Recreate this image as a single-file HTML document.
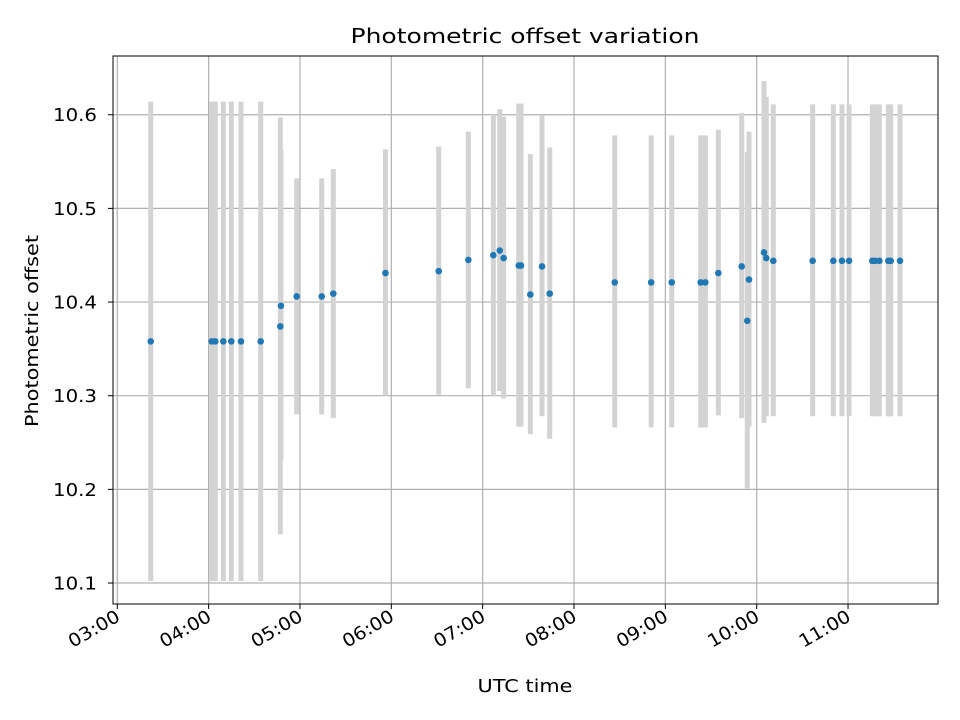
<!DOCTYPE html>
<html><head><meta charset="utf-8"><style>
body{margin:0;background:#fff;}
svg{display:block;font-family:"DejaVu Sans","Liberation Sans",sans-serif;}
</style></head><body>
<svg id="chart" width="960" height="720" viewBox="0 0 960 720" xmlns="http://www.w3.org/2000/svg">
<rect x="0" y="0" width="960" height="720" fill="#fff"/>
<g id="grid"></g>
<g id="errs"></g>
<g id="pts"></g>
<rect x="113" y="56" width="825" height="548" fill="none" stroke="#000" stroke-width="1"/>
<g id="axes"></g>
<text x="525" y="43" text-anchor="middle" font-size="20" textLength="349" lengthAdjust="spacingAndGlyphs">Photometric offset variation</text>
<text x="525" y="692" text-anchor="middle" font-size="18" textLength="95" lengthAdjust="spacingAndGlyphs">UTC time</text>
<text x="38" y="331" text-anchor="middle" font-size="18" textLength="192" lengthAdjust="spacingAndGlyphs" transform="rotate(-90 38 331)">Photometric offset</text>
</svg>
<script>
const times = [3.366,4.034,4.073,4.161,4.248,4.354,4.570,4.785,4.792,4.964,5.238,5.365,5.936,6.519,6.843,7.117,7.187,7.230,7.395,7.420,7.522,7.650,7.734,8.446,8.845,9.070,9.387,9.438,9.580,9.836,9.897,9.916,10.080,10.105,10.182,10.613,10.839,10.934,11.011,11.266,11.299,11.343,11.441,11.467,11.569];
const offsets = [10.358,10.358,10.358,10.358,10.358,10.358,10.358,10.374,10.396,10.406,10.406,10.409,10.431,10.433,10.445,10.450,10.455,10.447,10.439,10.439,10.408,10.438,10.409,10.421,10.421,10.421,10.421,10.421,10.431,10.438,10.380,10.424,10.453,10.447,10.444,10.444,10.444,10.444,10.444,10.444,10.444,10.444,10.444,10.444,10.444];
const lowers = [10.102,10.102,10.102,10.102,10.102,10.102,10.102,10.152,10.231,10.280,10.280,10.276,10.300,10.301,10.308,10.300,10.305,10.297,10.267,10.267,10.259,10.278,10.254,10.266,10.266,10.266,10.266,10.266,10.279,10.276,10.201,10.267,10.271,10.278,10.278,10.278,10.278,10.278,10.278,10.278,10.278,10.278,10.278,10.278,10.278];
const uppers = [10.614,10.614,10.614,10.614,10.614,10.614,10.614,10.597,10.562,10.532,10.532,10.542,10.563,10.566,10.582,10.600,10.606,10.598,10.612,10.612,10.558,10.599,10.565,10.578,10.578,10.578,10.578,10.578,10.584,10.602,10.560,10.582,10.636,10.619,10.611,10.611,10.611,10.611,10.611,10.611,10.611,10.611,10.611,10.611,10.611];
const yTicks = [10.1,10.2,10.3,10.4,10.5,10.6];
const yTickLabels = ["10.1","10.2","10.3","10.4","10.5","10.6"];
const xTicks = [3,4,5,6,7,8,9,10,11];
const xTickLabels = ["03:00","04:00","05:00","06:00","07:00","08:00","09:00","10:00","11:00"];

const L=113,R=938,T=56,B=604;
const xMin=2.953,xMax=11.985,yMin=10.0776,yMax=10.6627;
const xs=v=>L+(v-xMin)/(xMax-xMin)*(R-L);
const ys=v=>B-(v-yMin)/(yMax-yMin)*(B-T);
const NS="http://www.w3.org/2000/svg";
function mk(tag,attrs,parent){const e=document.createElementNS(NS,tag);for(const k in attrs)e.setAttribute(k,attrs[k]);parent.appendChild(e);return e;}
const grid=document.getElementById('grid'),axes=document.getElementById('axes'),errs=document.getElementById('errs'),pts=document.getElementById('pts');
yTicks.forEach((t,i)=>{
  const y=ys(t);
  const g=mk('line',{x1:L,x2:R,y1:y,y2:y,stroke:'#b0b0b0','stroke-width':1.2},grid);
  
  
  const tk=mk('line',{x1:L-5,x2:L,y1:y,y2:y,stroke:'#000','stroke-width':1},axes);
  
  
  const tx=mk('text',{x:97,y:y+6.5,'text-anchor':'end','font-size':18,textLength:44,lengthAdjust:'spacingAndGlyphs'},axes);
  tx.textContent=yTickLabels[i];
  
  
});
xTicks.forEach((t,i)=>{
  const x=xs(t);
  const g=mk('line',{x1:x,x2:x,y1:T,y2:B,stroke:'#b0b0b0','stroke-width':1.2},grid);
  
  
  const tk=mk('line',{x1:x,x2:x,y1:B,y2:B+5,stroke:'#000','stroke-width':1},axes);
  
  
  const tx=mk('text',{x:x+4,y:B+16,'text-anchor':'end','font-size':18,textLength:56,lengthAdjust:'spacingAndGlyphs',transform:`rotate(-30 ${x+4} ${B+16})`},axes);
  tx.textContent=xTickLabels[i];
  
  
});
times.forEach((t,i)=>{
  const x=xs(t);
  const e=mk('line',{x1:x,x2:x,y1:ys(uppers[i]),y2:ys(lowers[i]),stroke:'#d3d3d3','stroke-width':5},errs);
  
  
});
times.forEach((t,i)=>{
  const c=mk('circle',{cx:xs(t),cy:ys(offsets[i]),r:3.3,fill:'#1f77b4'},pts);
  
  
});
</script>
</body></html>
